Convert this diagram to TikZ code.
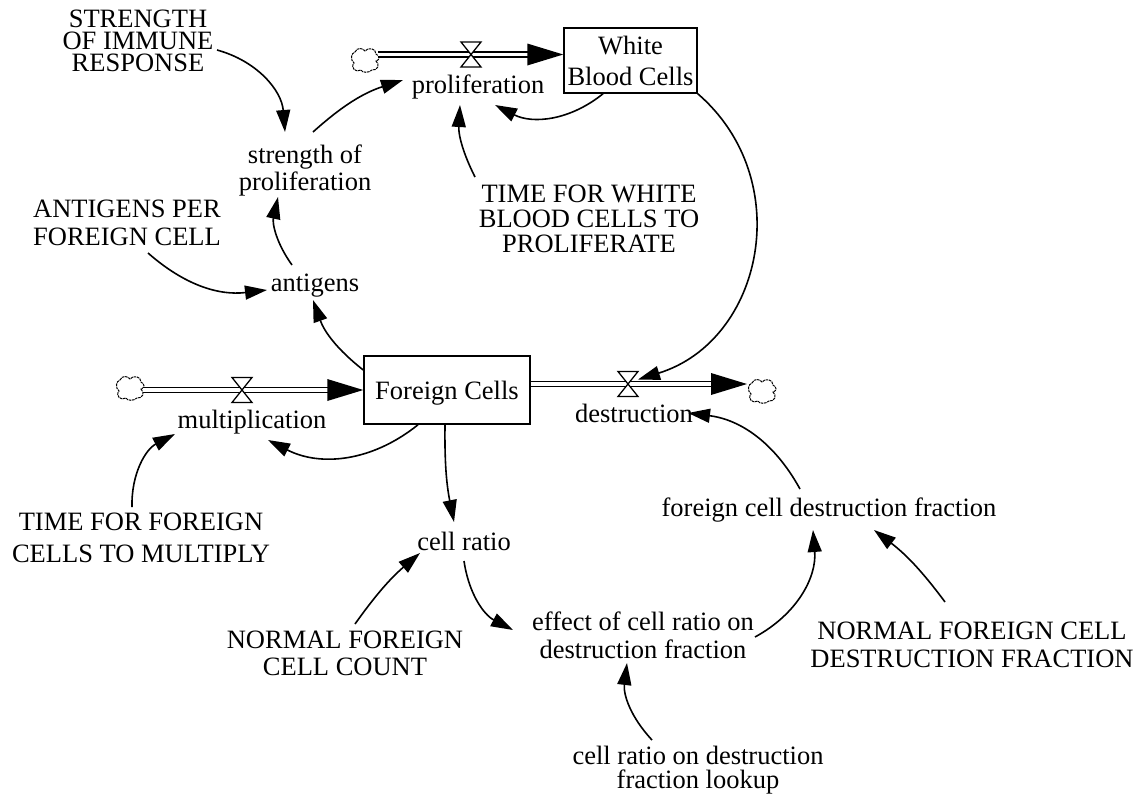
\documentclass[tikz,border=0pt]{standalone}
\usepackage{fontspec}
\setmainfont{Liberation Serif}
\usetikzlibrary{arrows.meta}
\begin{document}
\begin{tikzpicture}[x=1pt,y=-1pt,
  lbl/.style={font=\fontsize{26.5}{28}\selectfont, inner sep=0pt, align=center},
  stock/.style={draw, line width=1.5pt, inner sep=0pt, align=center, font=\fontsize{26.5}{31}\selectfont},
  lnk/.style={line width=1.6pt, -{Triangle[length=22pt,width=14pt]}},
  pipe/.style={line width=1.5pt, double distance=3.5pt},
  vcloud/.pic={\draw[line width=1pt, dash pattern=on 2.5pt off 0.8pt]
     (-10,-8) .. controls (-8,-13) and (-2,-12) .. (0,-9)
     .. controls (3,-13) and (11,-12) .. (11,-6)
     .. controls (15,-4) and (15,0) .. (11,1)
     .. controls (15,4) and (13,11) .. (7,10)
     .. controls (4,13) and (-3,13) .. (-4,10)
     .. controls (-9,13) and (-15,8) .. (-11,3)
     .. controls (-15,0) and (-14,-7) .. (-10,-8) -- cycle;},
  vvalve/.pic={\filldraw[fill=white, line width=1.3pt, line join=miter]
     (-10,-12.5) -- (10,-12.5) -- (0,0) -- cycle
     (-10,12.5) -- (10,12.5) -- (0,0) -- cycle;}
]
\useasboundingbox (0,0) rectangle (1140,796);
\fill[white] (0,0) rectangle (1140,796);

% stocks
\node[stock, minimum width=133, minimum height=65] (wbc) at (630.5,60.5) {White\\Blood Cells};
\node[stock, text height=18pt, text depth=0pt, minimum width=166, minimum height=68] (fc) at (447,390) {Foreign Cells};

% clouds and valves
\coordinate (cloudP) at (365,60);
\coordinate (cloudM) at (130,388);
\coordinate (cloudD) at (762,391);
\coordinate (valveP) at (471,54.5);
\coordinate (valveM) at (242,390);
\coordinate (valveD) at (628,384);
\pic at (cloudP) {vcloud};
\pic at (cloudM) {vcloud};
\pic at (cloudD) {vcloud};

% pipes
\draw[pipe] ([shift={(13,-5.5)}]cloudP) -- ([shift={(-34,-6)}]wbc.west);
\fill ([shift={(0,-6)}]wbc.west) -- ++(-36,-11) -- ++(0,22) -- cycle;
\draw[pipe] ([shift={(13,2)}]cloudM) -- ([shift={(-34,0)}]fc.west);
\fill (fc.west) -- ++(-36,-11) -- ++(0,22) -- cycle;
\draw[pipe] ([shift={(0,-6)}]fc.east) -- ([shift={(-49,-7)}]cloudD);
\fill ([shift={(-15,-7)}]cloudD) -- ++(-36,-11) -- ++(0,22) -- cycle;
\pic at (valveP) {vvalve};
\pic at (valveM) {vvalve};
\pic at (valveD) {vvalve};

% variables
\node[lbl, anchor=base] (prolif) at (478,93) {proliferation};
\node[lbl, anchor=base] (multi) at (252,428) {multiplication};
\node[lbl, anchor=base] (destr) at (634,422) {destruction};
\node[lbl, anchor=base] (antigens) at (315,291) {antigens};
\node[lbl, anchor=base] (cellratio) at (464,550) {cell ratio};
\node[lbl, anchor=base] (fcdf) at (829,516) {foreign cell destruction fraction};
\node[lbl, font=\fontsize{26.5}{22}\selectfont] (sir) at (138,41) {STRENGTH\\OF IMMUNE\\RESPONSE};
\node[lbl, font=\fontsize{26.5}{27}\selectfont] (sop) at (305,170) {strength of\\proliferation};
\node[lbl, font=\fontsize{26.5}{28}\selectfont] (apfc) at (127,222.5) {ANTIGENS PER\\FOREIGN CELL};
\node[lbl, font=\fontsize{26.5}{25}\selectfont] (tfwbc) at (589,219) {TIME FOR WHITE\\BLOOD CELLS TO\\PROLIFERATE};
\node[lbl, font=\fontsize{26.5}{32}\selectfont] (tffc) at (141,538) {TIME FOR FOREIGN\\CELLS TO MULTIPLY};
\node[lbl, font=\fontsize{26.5}{27}\selectfont] (nfcc) at (345,653) {NORMAL FOREIGN\\CELL COUNT};
\node[lbl, font=\fontsize{26.5}{28}\selectfont] (effect) at (643,635) {effect of cell ratio on\\destruction fraction};
\node[lbl, font=\fontsize{26.5}{24}\selectfont] (lookup) at (698,770) {cell ratio on destruction\\fraction lookup};
\node[lbl, font=\fontsize{26.5}{28}\selectfont] (nfcdf) at (972,645) {NORMAL FOREIGN CELL\\DESTRUCTION FRACTION};

% links
\draw[lnk] ([shift={(79,9)}]sir.center) to[bend left=35] ([shift={(-20,-38)}]sop.center);
\draw[lnk] ([shift={(8,-38)}]sop.center) to[bend left=12] ([shift={(-75,-13)}]prolif.base);
\draw[lnk] ([shift={(-27.5,0)}]wbc.south) to[bend left=33] ([shift={(17,12)}]prolif.base);
\draw[lnk] ([shift={(-114,-42)}]tfwbc.center) to[bend left=15] ([shift={(-18,12)}]prolif.base);
\draw[lnk] ([shift={(21,30.5)}]apfc.center) to[bend right=24] ([shift={(-48,-1)}]antigens.base);
\draw[lnk] ([shift={(-23,-26)}]antigens.base) to[bend left=24] ([shift={(-27,27)}]sop.center);
\draw[lnk] ([shift={(0,-20)}]fc.west) to[bend left=16] ([shift={(-2,9)}]antigens.base);
\draw[lnk] ([shift={(-29,0)}]fc.south) to[bend left=33] ([shift={(16,12)}]multi.base);
\draw[lnk] ([shift={(-9,-31)}]tffc.center) to[bend left=32] ([shift={(-77,6)}]multi.base);
\draw[lnk] ([shift={(-2,0)}]fc.south) to[bend right=6] ([shift={(-10,-28)}]cellratio.base);
\draw[lnk] ([shift={(10,-29)}]nfcc.center) to[bend left=7] ([shift={(-44,3)}]cellratio.base);
\draw[lnk] ([shift={(0,11)}]cellratio.base) to[bend right=27] ([shift={(-130,-5)}]effect.center);
\draw[lnk] ([shift={(-46,-30)}]lookup.center) to[bend left=25] ([shift={(-16,28)}]effect.center);
\draw[lnk] ([shift={(112,2)}]effect.center) to[bend right=33] ([shift={(-16,14)}]fcdf.base);
\draw[lnk] ([shift={(-29,-27)}]fcdf.base) to[bend right=27] ([shift={(54,-9)}]destr.base);
\draw[lnk] ([shift={(-27,-43)}]nfcdf.center) to[bend right=8] ([shift={(45,14)}]fcdf.base);
\draw[lnk, looseness=1.15] (wbc.south east) to[bend left=61] ([shift={(10,-4.5)}]valveD);
\end{tikzpicture}
\end{document}
